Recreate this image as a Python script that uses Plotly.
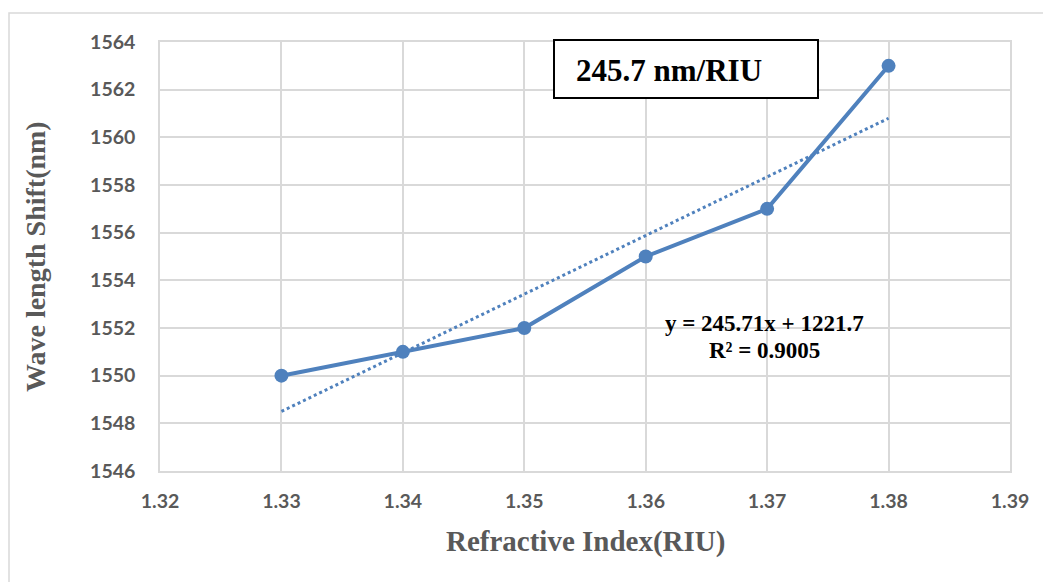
import plotly.graph_objects as go

ri = [1.33, 1.34, 1.35, 1.36, 1.37, 1.38]
shift = [1550, 1551, 1552, 1555, 1557, 1563]
trend_x = [1.33, 1.38]
trend_y = [1548.5, 1560.8]
x_ticks = [1.32, 1.33, 1.34, 1.35, 1.36, 1.37, 1.38, 1.39]
y_ticks = [1546, 1548, 1550, 1552, 1554, 1556, 1558, 1560, 1562, 1564]

OFF = 8  # default page body margin
W, H = 1051 - OFF, 582 - OFF
# plot area in page pixels: x 160..1010, y 42..471
L, R, T, B = 160 - OFF, 1051 - 1010, 42 - OFF, 582 - 471
pw, ph = W - L - R, H - T - B


def px(x):
    return (x - OFF - L) / pw


def py(y):
    return (H - B - (y - OFF)) / ph


blue = "#4F81BD"
fig = go.Figure()
fig.add_trace(go.Scatter(x=trend_x, y=trend_y, mode="lines",
                         line=dict(color=blue, width=3, dash="dot"), showlegend=False))
fig.add_trace(go.Scatter(x=ri, y=shift, mode="lines+markers",
                         line=dict(color=blue, width=4),
                         marker=dict(color=blue, size=14), showlegend=False))

tickfont = dict(family="Lato, Open Sans, sans-serif", size=19.5, color="#595959", weight="bold")
fig.update_xaxes(range=[1.32, 1.39], tickvals=x_ticks, ticktext=[f"{v:.2f}" for v in x_ticks],
                 showgrid=True, gridcolor="#D9D9D9", gridwidth=1.5, zeroline=False,
                 showline=True, linecolor="#D9D9D9", linewidth=1.5, mirror=True,
                 tickfont=tickfont, ticks="", ticklabelstandoff=12)
fig.update_yaxes(range=[1546, 1564], tickvals=y_ticks, ticktext=[str(v) for v in y_ticks],
                 showgrid=True, gridcolor="#D9D9D9", gridwidth=1.5, zeroline=False,
                 showline=True, linecolor="#D9D9D9", linewidth=1.5, mirror=True,
                 tickfont=tickfont, ticks="", ticklabelstandoff=19)

serif = "Liberation Serif, Times New Roman, serif"
fig.update_layout(
    width=W, height=H, margin=dict(l=L, r=R, t=T, b=B),
    paper_bgcolor="white", plot_bgcolor="white",
    shapes=[
        dict(type="rect", xref="paper", yref="paper", x0=px(9), x1=px(1070), y0=py(13), y1=py(620),
             line=dict(color="#D9D9D9", width=1.5), layer="below"),
        dict(type="rect", xref="paper", yref="paper", x0=px(554), x1=px(818), y0=py(98), y1=py(40),
             line=dict(color="black", width=2), fillcolor="white", layer="above"),
    ],
    annotations=[
        dict(xref="paper", yref="paper", x=px(574), y=py(70), xanchor="left", yanchor="middle",
             text="<b>245.7 nm/RIU</b>", showarrow=False, font=dict(family=serif, size=31, color="black")),
        dict(xref="paper", yref="paper", x=px(764), y=py(323), xanchor="center", yanchor="middle",
             text="<b>y = 245.71x + 1221.7</b>", showarrow=False, font=dict(family=serif, size=23, color="black")),
        dict(xref="paper", yref="paper", x=px(764), y=py(350), xanchor="center", yanchor="middle",
             text="<b>R² = 0.9005</b>", showarrow=False, font=dict(family=serif, size=23, color="black")),
        dict(xref="paper", yref="paper", x=px(585), y=py(541), xanchor="center", yanchor="middle",
             text="<b>Refractive Index(RIU)</b>", showarrow=False, font=dict(family=serif, size=29, color="#595959")),
        dict(xref="paper", yref="paper", x=px(35), y=py(257), xanchor="center", yanchor="middle", textangle=-90,
             text="<b>Wave length Shift(nm)</b>", showarrow=False, font=dict(family=serif, size=28, color="#595959")),
    ],
)

fig.write_html("out.html")
